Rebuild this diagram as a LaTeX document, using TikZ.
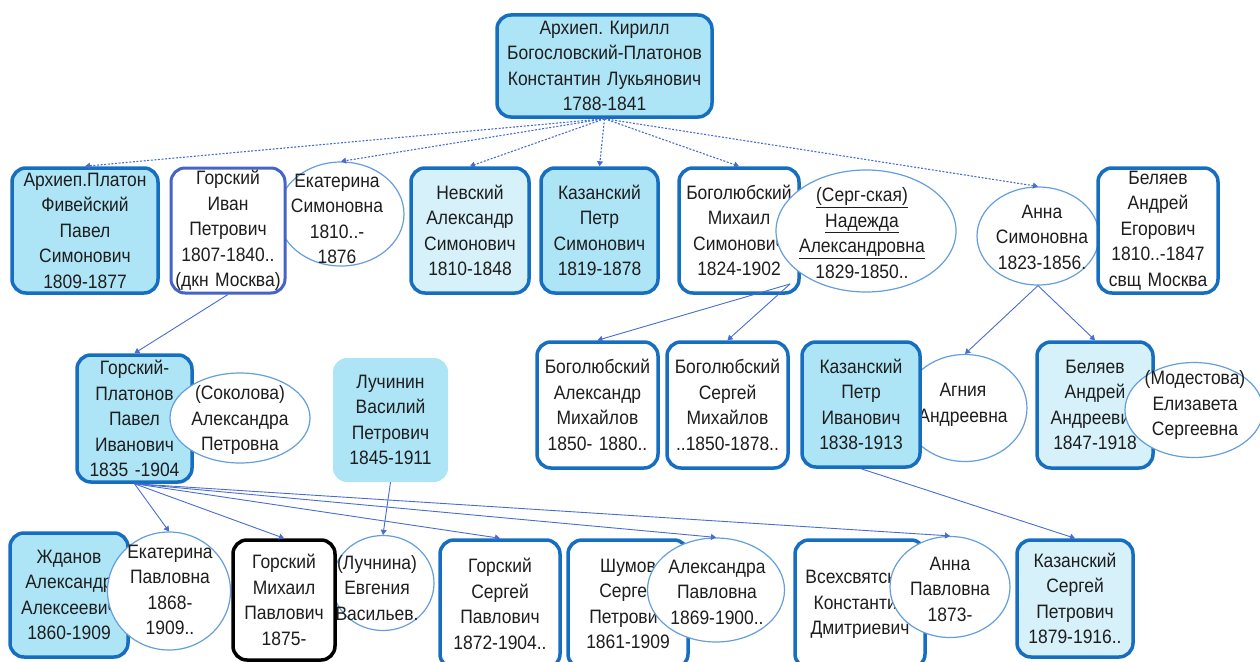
\documentclass[tikz,border=0pt]{standalone}
\usepackage{fontspec}
\setmainfont{Liberation Sans}[FakeStretch=0.9]
\usetikzlibrary{arrows.meta,shapes.geometric}
\definecolor{boxblue}{RGB}{22,110,192}
\definecolor{ivanblue}{RGB}{70,100,200}
\definecolor{cyanf}{RGB}{174,229,246}
\definecolor{lcyan}{RGB}{214,241,249}
\definecolor{ellblue}{RGB}{100,158,220}
\definecolor{conblue}{RGB}{72,108,210}
\definecolor{txt}{RGB}{30,30,30}
\frenchspacing
\begin{document}
\begin{tikzpicture}[x=1pt,y=-1pt,
  every node/.style={font=\fontsize{19.4}{25.5}\selectfont, text=txt, align=center, inner sep=0pt},
  box/.style={rectangle, rounded corners=14pt, draw=boxblue, line width=3.5pt},
  cy/.style={fill=cyanf},
  lc/.style={fill=lcyan},
  wh/.style={fill=white},
  sz/.style 2 args={text width=#1pt, minimum height=#2pt},
  ell/.style={ellipse, draw=ellblue, line width=1.2pt, fill=white, inner sep=0pt},
  esz/.style 2 args={minimum width=#1pt, minimum height=#2pt},
  dline/.style={draw=conblue, line width=1.1pt, dash pattern=on 2pt off 1.6pt, -{Triangle[width=6pt,length=5pt]}},
  sline/.style={draw=conblue, line width=0.9pt, -{Triangle[width=6pt,length=5pt]}}
]
\useasboundingbox (0,0) rectangle (1260,661);
\clip (0,0) rectangle (1260,661);

% root
\node[box,cy,sz={215}{102}] (root) at (604.5,66) {Архиеп. Кирилл\\Богословский-Платонов\\Константин Лукьянович\\1788-1841};

% row 2
\node[ell,esz={126}{104}] (ekat) at (341,214) {};
\node (ekatt) at (337,219) {Екатерина\\Симоновна\\1810..-\\1876};
\node[ell,esz={122}{98}] (anna) at (1038,236) {};
\node (annat) at (1042,237) {Анна\\Симоновна\\1823-1856.};
\node[box,cy,sz={146}{125}] (platon) at (85,230.5) {Архиеп.Платон\\Фивейский\\Павел\\Симонович\\1809-1877};
\node[box,wh,draw=ivanblue,line width=3pt,sz={114}{125}] (givan) at (228,230.5) {Горский\\Иван\\Петрович\\1807-1840..\\(дкн Москва)};
\node[box,lc,sz={118}{125}] (nevsky) at (470,230.5) {Невский\\Александр\\Симонович\\1810-1848};
\node[box,cy,sz={117}{125}] (kps) at (599.5,230.5) {Казанский\\Петр\\Симонович\\1819-1878};
\node[box,wh,sz={120}{125}] (bms) at (739,230.5) {Боголюбский\\Михаил\\Симонович\\1824-1902};
\node[ell,esz={180}{122}] (nadezhda) at (866,231) {};
\node (nadezhdat) at (862,233) {\underline{(Серг-ская)}\\\underline{Надежда}\\\underline{Александровна}\\1829-1850..};
\node[box,wh,sz={120}{125}] (bae) at (1158,230.5) {Беляев\\Андрей\\Егорович\\1810..-1847\\свщ Москва};

% row 3
\node[box,cy,sz={115}{127}] (gplat) at (134.5,418.5) {Горский-\\Платонов\\Павел\\Иванович\\1835 -1904};
\node[ell,esz={140}{90}] (sokolova) at (240,418) {};
\node (sokolovat) at (240,420) {(Соколова)\\Александра\\Петровна};
\node[rectangle, rounded corners=14pt, fill=cyanf, sz={115}{124}] (luchinin) at (390.5,420) {Лучинин\\Василий\\Петрович\\1845-1911};
\node[box,wh,sz={121}{126}] (bam) at (597.5,405) {Боголюбский\\Александр\\Михайлов\\1850- 1880..};
\node[box,wh,sz={121}{126}] (bsm) at (727.5,405) {Боголюбский\\Сергей\\Михайлов\\..1850-1878..};
\node[ell,esz={124}{107}] (agniya) at (965,408) {};
\node (agniyat) at (963,405) {Агния\\Андреевна};
\node[box,cy,sz={118}{125}] (kpi) at (861,404.5) {Казанский\\Петр\\Иванович\\1838-1913};
\node[box,lc,sz={116}{126}] (baa) at (1095,405) {Беляев\\Андрей\\Андреевич\\1847-1918};
\node[ell,esz={138}{95}] (modestova) at (1194,410) {};
\node (modestovat) at (1195,405) {(Модестова)\\Елизавета\\Сергеевна};

% row 4
\node[box,cy,sz={118}{124}] (zhdanov) at (69,595) {Жданов\\Александр\\Алексеевич\\1860-1909};
\node[ell,esz={123}{118}] (ekp) at (169,591) {};
\node (ekpt) at (170,590) {Екатерина\\Павловна\\1868-\\1909..};
\node[ell,esz={102}{95}] (luchnina) at (383,583) {};
\node (luchninat) at (377,588) {(Лучнина)\\Евгения\\Васильев.};
\node[box,wh,draw=black,sz={102}{120}] (gmikh) at (284,600) {Горский\\Михаил\\Павлович\\1875-};
\node[box,wh,sz={120}{128}] (gsergey) at (500,604) {Горский\\Сергей\\Павлович\\1872-1904..};
\node[box,wh,sz={120}{128}] (shumov) at (628,604) {Шумов\\Сергей\\Петрович\\1861-1909};
\node[ell,esz={137}{104}] (alexandra) at (716,590) {};
\node (alexandrat) at (717,592) {Александра\\Павловна\\1869-1900..};
\node[box,wh,sz={130}{128}] (vseh) at (860,604) {Всехсвятский\\Константин\\Дмитриевич};
\node[ell,esz={120}{101}] (annap) at (950,587) {};
\node (annapt) at (950,589) {Анна\\Павловна\\1873-};
\node[box,lc,sz={116}{117}] (ksergey) at (1075,598.5) {Казанский\\Сергей\\Петрович\\1879-1916..};

% connectors from root
\draw[dline] (root.south) -- (platon.north);
\draw[dline] (root.south) -- (ekat.north);
\draw[dline] (root.south) -- (nevsky.north);
\draw[dline] (root.south) -- (kps.north);
\draw[dline] (root.south) -- (bms.north);
\draw[dline] (root.south) -- (anna.north);

% solid connectors
\draw[sline] (givan.south) -- (gplat.north);
\coordinate (mj) at (790,284);
\draw[sline] (mj) -- (bam.north);
\draw[sline] (mj) -- (bsm.north);
\draw[sline] (anna.south) -- (agniya.north);
\draw[sline] (anna.south) -- (baa.north);
\draw[sline] (gplat.south) -- (ekp.north);
\draw[sline] (gplat.south) -- (gmikh.north);
\draw[sline] (gplat.south) -- (gsergey.north);
\draw[sline] (gplat.south) -- (alexandra.north);
\draw[sline] (gplat.south) -- (annap.north);
\draw[sline] (luchinin.south) -- (luchnina.north);
\draw[sline] (kpi.south) -- (ksergey.north);
\end{tikzpicture}
\end{document}
